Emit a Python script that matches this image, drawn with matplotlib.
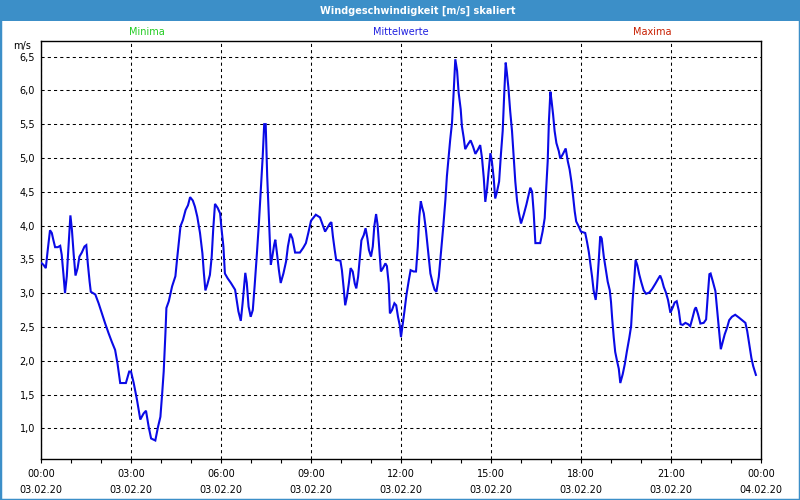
import matplotlib
matplotlib.use('Agg')
import matplotlib.pyplot as plt
from matplotlib.patches import Rectangle
from matplotlib.ticker import FixedLocator, MultipleLocator

# ---- data (hours since 03.02.20 00:00, wind speed m/s) ----
hours = [0.00, 0.08, 0.16, 0.22, 0.30, 0.36, 0.41, 0.47, 0.56, 0.64, 0.69, 0.75, 0.80, 0.86, 0.91,
         0.98, 1.03, 1.09, 1.15, 1.22, 1.28, 1.36, 1.45, 1.51, 1.56, 1.62, 1.66, 1.81, 1.92, 2.03,
         2.14, 2.25, 2.36, 2.47, 2.55, 2.64, 2.83, 2.94, 3.00, 3.09, 3.20, 3.31, 3.42, 3.50, 3.59,
         3.67, 3.81, 3.90, 3.98, 4.04, 4.09, 4.15, 4.18, 4.26, 4.37, 4.48, 4.54, 4.65, 4.73, 4.82,
         4.90, 4.97, 5.06, 5.13, 5.21, 5.30, 5.38, 5.43, 5.48, 5.54, 5.63, 5.69, 5.74, 5.80, 5.89,
         5.97, 6.02, 6.08, 6.13, 6.22, 6.33, 6.47, 6.52, 6.58, 6.66, 6.72, 6.81, 6.86, 6.92, 6.99,
         7.06, 7.12, 7.19, 7.26, 7.32, 7.39, 7.44, 7.49, 7.54, 7.60, 7.66, 7.71, 7.77, 7.81, 7.86,
         7.93, 7.99, 8.08, 8.17, 8.23, 8.31, 8.38, 8.47, 8.63, 8.74, 8.83, 8.91, 9.00, 9.16, 9.30,
         9.39, 9.47, 9.63, 9.68, 9.73, 9.79, 9.84, 9.98, 10.03, 10.09, 10.14, 10.20, 10.26, 10.32,
         10.39, 10.46, 10.51, 10.57, 10.62, 10.68, 10.76, 10.82, 10.88, 10.93, 11.00, 11.06, 11.11,
         11.17, 11.22, 11.28, 11.33, 11.40, 11.48, 11.53, 11.59, 11.63, 11.70, 11.78, 11.84, 11.90,
         11.96, 12.00, 12.06, 12.12, 12.18, 12.26, 12.32, 12.42, 12.50, 12.56, 12.61, 12.66, 12.70,
         12.76, 12.83, 12.90, 12.98, 13.06, 13.12, 13.18, 13.26, 13.33, 13.40, 13.48, 13.53, 13.59,
         13.64, 13.70, 13.76, 13.81, 13.87, 13.92, 13.99, 14.03, 14.09, 14.14, 14.23, 14.32, 14.40,
         14.48, 14.56, 14.64, 14.70, 14.76, 14.81, 14.87, 14.92, 14.98, 15.03, 15.09, 15.14, 15.20,
         15.27, 15.33, 15.39, 15.44, 15.49, 15.53, 15.58, 15.64, 15.70, 15.76, 15.81, 15.87, 15.92,
         16.00, 16.09, 16.18, 16.26, 16.31, 16.37, 16.42, 16.48, 16.64, 16.72, 16.79, 16.84, 16.89,
         16.93, 16.98, 17.02, 17.07, 17.12, 17.18, 17.26, 17.31, 17.40, 17.49, 17.56, 17.62, 17.68,
         17.73, 17.79, 17.84, 17.92, 18.00, 18.14, 18.20, 18.26, 18.31, 18.37, 18.42, 18.49, 18.53,
         18.59, 18.64, 18.69, 18.76, 18.82, 18.89, 18.96, 19.00, 19.04, 19.09, 19.14, 19.20, 19.26,
         19.31, 19.39, 19.46, 19.53, 19.61, 19.67, 19.72, 19.78, 19.82, 19.88, 19.94, 20.01, 20.09,
         20.17, 20.28, 20.37, 20.48, 20.57, 20.64, 20.70, 20.76, 20.83, 20.90, 20.98, 21.06, 21.12,
         21.19, 21.26, 21.32, 21.39, 21.48, 21.57, 21.64, 21.72, 21.79, 21.83, 21.90, 21.98, 22.09,
         22.17, 22.23, 22.28, 22.32, 22.39, 22.48, 22.54, 22.61, 22.66, 22.72, 22.79, 22.87, 22.94,
         23.03, 23.14, 23.26, 23.37, 23.48, 23.54, 23.61, 23.68, 23.74, 23.83]
speed = [3.45, 3.42, 3.37, 3.62, 3.93, 3.89, 3.79, 3.68, 3.68, 3.70, 3.57, 3.27, 3.00, 3.25, 3.64,
         4.15, 3.94, 3.57, 3.26, 3.37, 3.54, 3.60, 3.69, 3.71, 3.44, 3.17, 3.02, 2.98, 2.85, 2.70,
         2.55, 2.41, 2.28, 2.16, 1.96, 1.67, 1.67, 1.84, 1.84, 1.67, 1.42, 1.13, 1.22, 1.26, 1.02,
         0.85, 0.82, 1.02, 1.17, 1.52, 1.84, 2.43, 2.78, 2.88, 3.10, 3.25, 3.52, 3.99, 4.08, 4.23,
         4.30, 4.42, 4.37, 4.28, 4.13, 3.89, 3.59, 3.29, 3.04, 3.12, 3.27, 3.54, 3.94, 4.32, 4.26,
         4.18, 3.94, 3.69, 3.29, 3.22, 3.15, 3.05, 2.90, 2.73, 2.59, 2.85, 3.30, 3.15, 2.80, 2.65,
         2.75, 3.10, 3.54, 4.01, 4.48, 5.02, 5.50, 5.50, 4.73, 4.08, 3.42, 3.54, 3.71, 3.79, 3.61,
         3.34, 3.15, 3.29, 3.47, 3.69, 3.88, 3.81, 3.60, 3.60, 3.67, 3.74, 3.89, 4.07, 4.16, 4.12,
         4.01, 3.91, 4.03, 4.05, 3.84, 3.64, 3.49, 3.48, 3.34, 3.07, 2.82, 2.95, 3.14, 3.37,
         3.32, 3.14, 3.07, 3.24, 3.49, 3.78, 3.86, 3.96, 3.81, 3.64, 3.54, 3.69, 3.99,
         4.17, 4.01, 3.64, 3.32, 3.37, 3.44, 3.40, 3.14, 2.70, 2.75, 2.85, 2.82, 2.65,
         2.52, 2.35, 2.55, 2.75, 2.97, 3.19, 3.34, 3.32, 3.32, 3.69, 4.13, 4.36, 4.28,
         4.18, 3.94, 3.64, 3.29, 3.14, 3.05, 3.02, 3.24, 3.59, 3.94, 4.38, 4.73, 5.02,
         5.27, 5.52, 6.01, 6.46, 6.29, 5.97, 5.72, 5.47, 5.30, 5.13, 5.20, 5.26, 5.17,
         5.06, 5.12, 5.19, 5.00, 4.70, 4.35, 4.55, 4.80, 5.07, 4.95, 4.70, 4.40, 4.50,
         4.65, 5.05, 5.40, 5.94, 6.41, 6.26, 6.04, 5.69, 5.40, 5.00, 4.65, 4.36, 4.21,
         4.03, 4.16, 4.31, 4.46, 4.56, 4.50, 4.21, 3.74, 3.74, 3.91, 4.11, 4.55, 4.95,
         5.54, 5.98, 5.84, 5.64, 5.40, 5.22, 5.10, 4.99, 5.06, 5.14, 4.95, 4.83, 4.65,
         4.46, 4.21, 4.06, 3.99, 3.91, 3.89, 3.76, 3.61, 3.44, 3.24, 3.04, 2.90, 3.07,
         3.47, 3.84, 3.81, 3.54, 3.37, 3.17, 3.04, 2.87, 2.62, 2.35, 2.13, 2.00, 1.88,
         1.67, 1.80, 1.95, 2.14, 2.34, 2.51, 2.89, 3.23, 3.49, 3.41, 3.28, 3.16, 3.04,
         2.99, 3.01, 3.06, 3.14, 3.21, 3.26, 3.19, 3.09, 3.01, 2.90, 2.71, 2.79, 2.86,
         2.88, 2.74, 2.54, 2.53, 2.56, 2.54, 2.51, 2.64, 2.76, 2.79, 2.69, 2.55, 2.56,
         2.61, 2.99, 3.28, 3.29, 3.18, 3.03, 2.74, 2.39, 2.17, 2.27, 2.39, 2.49, 2.60,
         2.65, 2.68, 2.64, 2.60, 2.56, 2.44, 2.24, 2.04, 1.92, 1.79]

xtick_hours = [0, 3, 6, 9, 12, 15, 18, 21, 24]
xtick_times = ['00:00', '03:00', '06:00', '09:00', '12:00', '15:00', '18:00', '21:00', '00:00']
xtick_dates = ['03.02.20'] * 8 + ['04.02.20']
ytick_values = [1.0, 1.5, 2.0, 2.5, 3.0, 3.5, 4.0, 4.5, 5.0, 5.5, 6.0, 6.5]
ytick_labels = ['1,0', '1,5', '2,0', '2,5', '3,0', '3,5', '4,0', '4,5', '5,0', '5,5', '6,0', '6,5']

title = 'Windgeschwindigkeit [m/s] skaliert'
legend_labels = ['Minima', 'Mittelwerte', 'Maxima']
legend_colors = ['#22cc22', '#2020e0', '#c81e00']
legend_xpos = [147, 401, 652]

W, H = 800, 500
BAR = '#3c8fc8'

fig = plt.figure(figsize=(W / 100, H / 100), dpi=100)
fig.patch.set_facecolor('white')
fig.patches.append(Rectangle((0, 1 - 21 / H), 1, 21 / H, transform=fig.transFigure,
                             facecolor=BAR, edgecolor='none', zorder=0))
fig.patches.append(Rectangle((0, 0), 1, 1, transform=fig.transFigure, fill=False,
                             edgecolor=BAR, linewidth=2.5, zorder=0))
fig.text(418 / W, 1 - 10.5 / H, title, color='white', fontweight='bold', fontsize=7,
         ha='center', va='center')
for lab, col, xp in zip(legend_labels, legend_colors, legend_xpos):
    fig.text(xp / W, 1 - 32 / H, lab, color=col, fontsize=7, ha='center', va='center')
fig.text(22 / W, 1 - 46 / H, 'm/s', color='black', fontsize=7, ha='center', va='center')

ax = fig.add_axes([41 / W, 41 / H, 720 / W, 418 / H])
ax.set_facecolor('white')
ax.plot(hours, speed, color='#0a0ae6', linewidth=1.5, solid_joinstyle='miter', zorder=3)

ax.set_xlim(0, 24)
ax.set_ylim(0.546, 6.73)

ax.xaxis.set_major_locator(FixedLocator(xtick_hours))
ax.set_xticklabels([t + '\n' + d for t, d in zip(xtick_times, xtick_dates)])
ax.xaxis.set_minor_locator(MultipleLocator(1))
ax.yaxis.set_major_locator(FixedLocator(ytick_values))
ax.set_yticklabels(ytick_labels)

ax.tick_params(axis='x', which='both', direction='out', length=3, width=0.8, color='black',
               labelsize=7, pad=4.5)
ax.tick_params(axis='y', which='both', length=0, labelsize=7, pad=4.3)
for lab in ax.get_xticklabels():
    lab.set_linespacing(1.65)

ax.grid(True, which='major', color='black', linestyle=(0, (3, 3)), linewidth=0.75)
for s in ax.spines.values():
    s.set_color('black')
    s.set_linewidth(1.0)

fig.savefig('out.png', dpi=100)
